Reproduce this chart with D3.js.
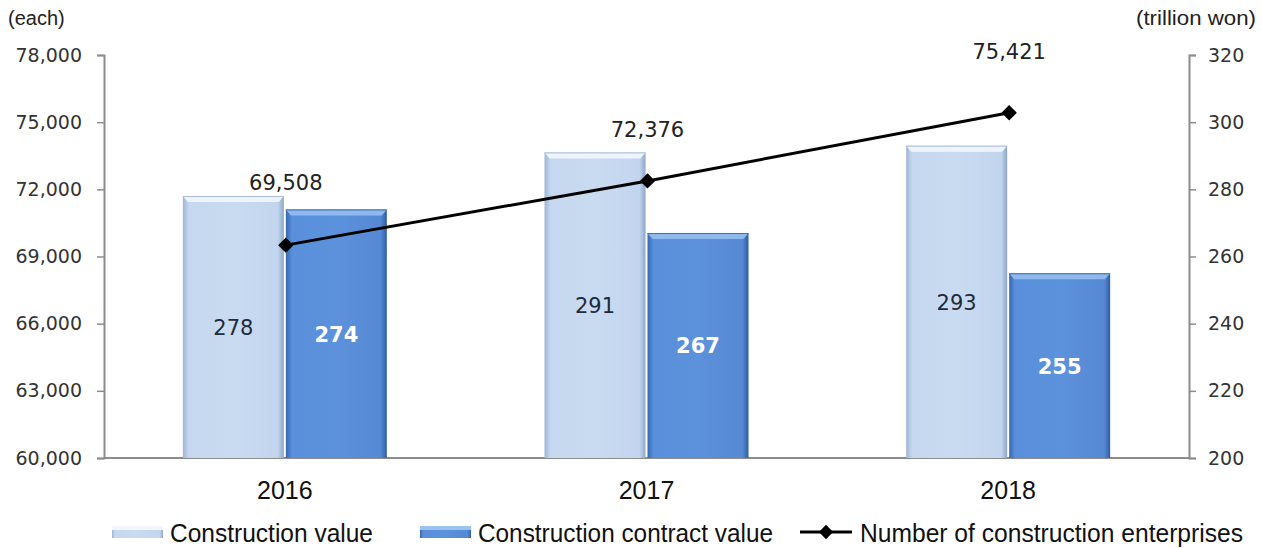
<!DOCTYPE html>
<html>
<head>
<meta charset="utf-8">
<script src="https://cdn.jsdelivr.net/npm/d3@7/dist/d3.min.js"></script>
<style>
  body { margin: 0; background: #fff; }
  svg { display: block; }
</style>
</head>
<body>
<div id="chart"></div>
<script>
var years = ["2016", "2017", "2018"];
var constructionValue = [278, 291, 293];
var contractValue = [274, 267, 255];
var enterprises = [69508, 72376, 75421];
var leftTicks = [60000, 63000, 66000, 69000, 72000, 75000, 78000];
var rightTicks = [200, 220, 240, 260, 280, 300, 320];

var width = 1262, height = 548;
var plotLeft = 104, plotRight = 1189, plotTop = 55, plotBottom = 458;

var svg = d3.select("#chart").append("svg")
    .attr("width", width)
    .attr("height", height);

var defs = svg.append("defs");

function grad(id, stops) {
    var g = defs.append("linearGradient").attr("id", id)
        .attr("x1", "0%").attr("x2", "100%").attr("y1", "0%").attr("y2", "0%");
    stops.forEach(function (s) {
        g.append("stop").attr("offset", s[0]).attr("stop-color", s[1]);
    });
}
grad("lightGrad", [["0%", "#9fb5d3"], ["6%", "#c6d8ef"], ["50%", "#c9dbf1"], ["94%", "#c2d5ee"], ["100%", "#8ea6c6"]]);
grad("darkGrad", [["0%", "#3568b0"], ["6%", "#5a8fdb"], ["50%", "#5c91dc"], ["94%", "#5689d4"], ["100%", "#2f5d9f"]]);

var x = d3.scaleBand().domain(years).range([plotLeft, plotRight]);
var yL = d3.scaleLinear().domain([60000, 78000]).range([plotBottom, plotTop]);
var yR = d3.scaleLinear().domain([200, 320]).range([plotBottom, plotTop]);

var barW = 101;

// axes
var axisL = svg.append("g").attr("transform", "translate(" + plotLeft + ",0)")
    .call(d3.axisLeft(yL).tickValues(leftTicks).tickSize(7).tickPadding(15).tickFormat(d3.format(",")));
var axisR = svg.append("g").attr("transform", "translate(" + plotRight + ",0)")
    .call(d3.axisRight(yR).tickValues(rightTicks).tickSize(7).tickPadding(12));
[axisL, axisR].forEach(function (a) {
    a.select(".domain").attr("stroke", "#8c8c8c").attr("stroke-width", 2);
    a.selectAll(".tick line").attr("stroke", "#8c8c8c").attr("stroke-width", 1.5);
    a.selectAll("text").attr("font-family", "DejaVu Sans").attr("font-size", 19).attr("fill", "#333");
});

svg.append("line")
    .attr("x1", plotLeft).attr("x2", plotRight)
    .attr("y1", plotBottom).attr("y2", plotBottom)
    .attr("stroke", "#8c8c8c").attr("stroke-width", 2);

// bars
function drawBars(values, offset, fill, bevel, edge, labelColor) {
    var g = svg.append("g");
    var bx = function (d, i) { return x(years[i]) + x.bandwidth() / 2 + offset; };
    g.selectAll("rect").data(values).enter().append("rect")
        .attr("x", bx)
        .attr("y", function (d) { return yR(d); })
        .attr("width", barW)
        .attr("height", function (d) { return plotBottom - yR(d); })
        .attr("fill", fill);
    g.selectAll("path").data(values).enter().append("path")
        .attr("d", function (d, i) {
            var x0 = bx(d, i), y0 = yR(d);
            return "M" + x0 + "," + y0 + "L" + (x0 + barW) + "," + y0 +
                "L" + (x0 + barW - 5) + "," + (y0 + 6) + "L" + (x0 + 5) + "," + (y0 + 6) + "Z";
        })
        .attr("fill", bevel);
    g.selectAll("line").data(values).enter().append("line")
        .attr("x1", function (d, i) { return bx(d, i); })
        .attr("x2", function (d, i) { return bx(d, i) + barW; })
        .attr("y1", function (d) { return yR(d) + 0.5; })
        .attr("y2", function (d) { return yR(d) + 0.5; })
        .attr("stroke", edge).attr("stroke-width", 1);
    g.selectAll("text").data(values).enter().append("text")
        .attr("x", function (d, i) { return bx(d, i) + barW / 2; })
        .attr("y", function (d) { return (yR(d) + plotBottom) / 2 + 8; })
        .attr("text-anchor", "middle")
        .attr("font-family", "DejaVu Sans")
        .attr("font-size", 21)
        .attr("font-weight", labelColor === "#fff" ? "bold" : "normal")
        .attr("fill", labelColor)
        .text(function (d) { return d; });
}
drawBars(constructionValue, -barW - 1, "url(#lightGrad)", "#eef4fc", "#a9bcd6", "#1f2a3a");
drawBars(contractValue, 1, "url(#darkGrad)", "#8fb8ee", "#3d6fb5", "#fff");

// line
var cx = function (d, i) { return x(years[i]) + x.bandwidth() / 2 + 1; };
var line = d3.line()
    .x(function (d, i) { return cx(d, i); })
    .y(function (d) { return yL(d); });
svg.append("path")
    .datum(enterprises)
    .attr("d", line)
    .attr("fill", "none")
    .attr("stroke", "#000")
    .attr("stroke-width", 3);
svg.selectAll("path.marker").data(enterprises).enter().append("path")
    .attr("class", "marker")
    .attr("transform", function (d, i) { return "translate(" + cx(d, i) + "," + yL(d) + ")"; })
    .attr("d", d3.symbol().type(d3.symbolDiamond2).size(150))
    .attr("fill", "#000");
var lineLabelDy = [-55, -44, -54];
svg.selectAll("text.lineLabel").data(enterprises).enter().append("text")
    .attr("class", "lineLabel")
    .attr("x", function (d, i) { return cx(d, i); })
    .attr("y", function (d, i) { return yL(d) + lineLabelDy[i]; })
    .attr("text-anchor", "middle")
    .attr("font-family", "DejaVu Sans")
    .attr("font-size", 21)
    .attr("fill", "#222")
    .text(d3.format(","));

// year labels
svg.selectAll("text.year").data(years).enter().append("text")
    .attr("class", "year")
    .attr("x", function (d) { return x(d) + x.bandwidth() / 2; })
    .attr("y", 499)
    .attr("text-anchor", "middle")
    .attr("font-family", "Liberation Sans")
    .attr("font-size", 25)
    .attr("fill", "#111")
    .text(function (d) { return d; });

// units
svg.append("text").attr("x", 8).attr("y", 25)
    .attr("font-family", "Liberation Sans").attr("font-size", 20).attr("fill", "#222")
    .text("(each)");
svg.append("text").attr("x", 1256).attr("y", 25).attr("text-anchor", "end")
    .attr("font-family", "Liberation Sans").attr("font-size", 20).attr("fill", "#222")
    .attr("textLength", 120).attr("lengthAdjust", "spacingAndGlyphs")
    .text("(trillion won)");

// legend
var lg = svg.append("g").attr("font-family", "Liberation Sans").attr("font-size", 25).attr("fill", "#111");
function legendText(xPos, len, label) {
    lg.append("text").attr("x", xPos).attr("y", 542)
        .attr("textLength", len).attr("lengthAdjust", "spacingAndGlyphs")
        .text(label);
}
lg.append("rect").attr("x", 112).attr("y", 526).attr("width", 51).attr("height", 12).attr("fill", "url(#lightGrad)");
lg.append("rect").attr("x", 112).attr("y", 526).attr("width", 51).attr("height", 4).attr("fill", "#f2f6fc");
legendText(170, 203, "Construction value");
lg.append("rect").attr("x", 420).attr("y", 526).attr("width", 51).attr("height", 12).attr("fill", "url(#darkGrad)");
lg.append("rect").attr("x", 420).attr("y", 526).attr("width", 51).attr("height", 4).attr("fill", "#9cc2f0");
legendText(478, 295, "Construction contract value");
lg.append("line").attr("x1", 800).attr("x2", 852).attr("y1", 532).attr("y2", 532).attr("stroke", "#000").attr("stroke-width", 3);
lg.append("path").attr("transform", "translate(826,532)")
    .attr("d", d3.symbol().type(d3.symbolDiamond2).size(130)).attr("fill", "#000");
legendText(860, 383, "Number of construction enterprises");
</script>
</body>
</html>
